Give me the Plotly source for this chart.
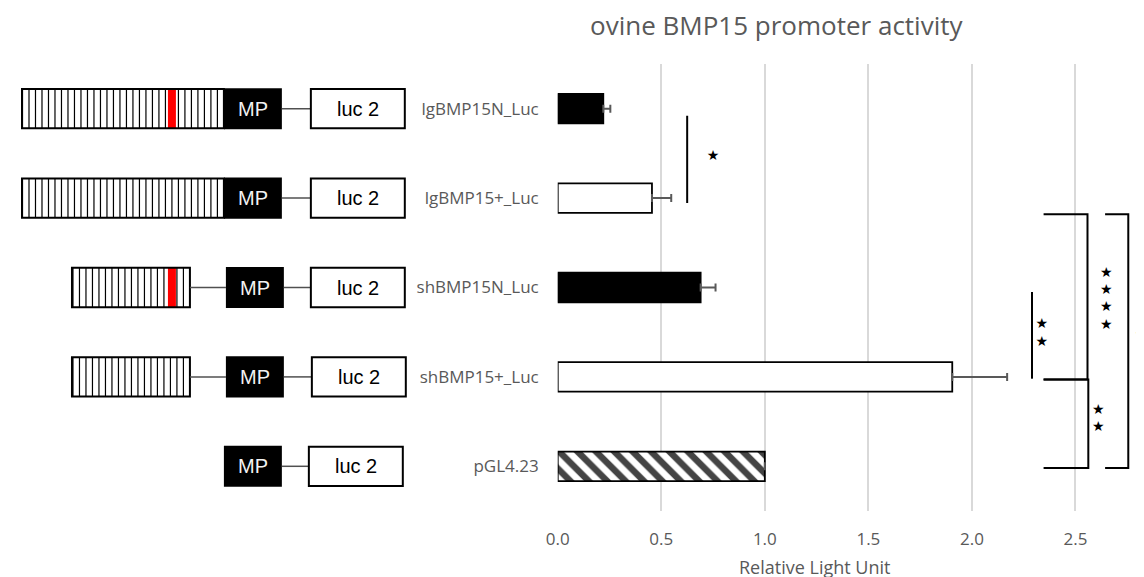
import numpy as np
import plotly.graph_objects as go

W, H = 1144, 577

# ---- data ----
labels = ['lgBMP15N_Luc', 'lgBMP15+_Luc', 'shBMP15N_Luc', 'shBMP15+_Luc', 'pGL4.23']
rlu = [0.22, 0.455, 0.69, 1.905, 1.0]
sem = [0.034, 0.093, 0.072, 0.265, None]
bar_fill = ['black', 'white', 'black', 'white', 'white']
bar_hatch = ['', '', '', '', '\\']

# construct layout: promoter length and whether it carries the mutation
promoter = ['long', 'long', 'short', 'short', None]
mutant = [True, False, True, False, False]

# significance brackets (x in RLU, y in row index) and their stars
brackets = [
    ([0.625, 0.625], [0.08, 1.055]),
    ([2.29, 2.29], [2.05, 3.02]),
    ([2.346, 2.558, 2.558, 2.346], [1.18, 1.18, 3.03, 3.03]),
    ([2.346, 2.562, 2.562, 2.346], [3.03, 3.03, 4.02, 4.02]),
    ([2.643, 2.755, 2.755, 2.643], [1.18, 1.18, 4.02, 4.02]),
]
stars_x = [0.75, 2.337, 2.337, 2.61, 2.61, 2.649, 2.649, 2.649, 2.649, 2.816]
stars_y = [0.54, 2.41, 2.61, 3.38, 3.57, 1.846, 2.03, 2.226, 2.42, 2.54]

gray = '#595959'
font = 'Open Sans, sans-serif'

# screen placement of the page (measured) and plot area in screen pixels
OX, SX, OY = 18, 0.99, 7
px_left, px_top, px_bottom = 556, 63, 510
unit = 207.2  # screen pixels per RLU


def fx(p):
    return (p - OX) / SX / W


def fy(p):
    return 1 - (p - OY) / H


fig = go.Figure()

rows = list(range(len(labels)))

fig.add_trace(go.Bar(
    x=rlu, y=rows, orientation='h',
    marker=dict(color=bar_fill, line=dict(color='black', width=1.8),
                pattern=dict(shape=bar_hatch, fgcolor='black', fgopacity=1,
                             fillmode='overlay', size=13, solidity=0.5)),
    error_x=dict(type='data', array=sem, arrayminus=[0] * len(sem), symmetric=False,
                 color=gray, thickness=2, width=4),
    width=0.33, showlegend=False, hoverinfo='skip'))

for bx, by in brackets:
    fig.add_trace(go.Scatter(x=bx, y=by, mode='lines', line=dict(color='black', width=2),
                             showlegend=False, hoverinfo='skip'))

fig.add_trace(go.Scatter(x=stars_x, y=stars_y, mode='text', text=['★'] * len(stars_x),
                         textfont=dict(size=14, color='black', family='DejaVu Sans'),
                         showlegend=False, hoverinfo='skip', cliponaxis=False))

# ---- construct diagrams (x2 in screen pixels, y in rows) ----
hh = 0.22
prom_span = {'long': (20, 222), 'short': (70, 188)}
mp_x0 = [222, 222, 224, 224, 222]
luc_x0 = [309, 309, 309, 310, 307]
mp_w, luc_w = 58, 94
shapes = []
sx, sy = [], []
for i in rows:
    if promoter[i]:
        a, b = prom_span[promoter[i]]
        for xs in np.arange(b - 6.5, a, -6.5):
            sx += [xs, xs, None]
            sy += [i - hh, i + hh, None]
        if mutant[i]:
            shapes.append(dict(type='rect', xref='x2', yref='y', x0=166, x1=174,
                               y0=i - hh, y1=i + hh, fillcolor='red', line_width=0, layer='above'))
        shapes.append(dict(type='rect', xref='x2', yref='y', x0=a, x1=b, y0=i - hh, y1=i + hh,
                           line=dict(color='black', width=2), fillcolor='rgba(0,0,0,0)', layer='above'))
        if b < mp_x0[i]:
            shapes.append(dict(type='line', xref='x2', yref='y', x0=b, x1=mp_x0[i], y0=i, y1=i,
                               line=dict(color='#505050', width=1.5)))
    shapes.append(dict(type='rect', xref='x2', yref='y', x0=mp_x0[i], x1=mp_x0[i] + mp_w,
                       y0=i - hh - 0.01, y1=i + hh + 0.01, fillcolor='black', line_width=0, layer='above'))
    shapes.append(dict(type='line', xref='x2', yref='y', x0=mp_x0[i] + mp_w, x1=luc_x0[i], y0=i, y1=i,
                       line=dict(color='#505050', width=1.5)))
    shapes.append(dict(type='rect', xref='x2', yref='y', x0=luc_x0[i], x1=luc_x0[i] + luc_w,
                       y0=i - hh, y1=i + hh, fillcolor='white', line=dict(color='black', width=2)))

fig.add_trace(go.Scatter(x=sx, y=sy, xaxis='x2', yaxis='y', mode='lines',
                         line=dict(color='black', width=1.2), showlegend=False, hoverinfo='skip'))

annotations = []
for i in rows:
    annotations.append(dict(xref='x2', yref='y', x=mp_x0[i] + mp_w / 2, y=i, text='MP', showarrow=False,
                            font=dict(family='Liberation Sans, Arial', size=20, color='#f2f2f2')))
    annotations.append(dict(xref='x2', yref='y', x=luc_x0[i] + luc_w / 2, y=i, text='luc 2', showarrow=False,
                            font=dict(family='Liberation Sans, Arial', size=20, color='black')))

annotations.append(dict(xref='paper', yref='paper', x=fx(775), y=fy(24), xanchor='center', yanchor='middle',
                        text='ovine BMP15 promoter activity', showarrow=False,
                        font=dict(family=font, size=26, color=gray)))
annotations.append(dict(xref='paper', yref='paper', x=fx(813), y=fy(566), xanchor='center', yanchor='middle',
                        text='Relative Light Unit', showarrow=False,
                        font=dict(family=font, size=18, color=gray)))

fig.update_layout(
    width=W, height=H,
    margin=dict(l=0, r=0, t=0, b=0),
    paper_bgcolor='white', plot_bgcolor='white',
    font=dict(family=font, color=gray),
    xaxis=dict(domain=[fx(px_left), 1], range=[0, (OX + SX * W - px_left) / unit],
               tickvals=[0, 0.5, 1, 1.5, 2, 2.5],
               tickformat='.1f', showgrid=True, gridcolor='#d9d9d9', gridwidth=1.5,
               zeroline=False, showline=False, ticks='', ticklabelstandoff=16,
               tickfont=dict(size=17, color=gray)),
    yaxis=dict(domain=[fy(px_bottom), fy(px_top)], range=[4.5, -0.5],
               tickvals=rows, ticktext=labels, showgrid=False, zeroline=False, showline=False,
               ticks='', ticklabelstandoff=18, tickfont=dict(size=17, color=gray)),
    xaxis2=dict(domain=[0, fx(px_left)], range=[OX, px_left], anchor='y', visible=False),
    shapes=shapes,
    annotations=annotations,
)

fig.write_html('out.html')
